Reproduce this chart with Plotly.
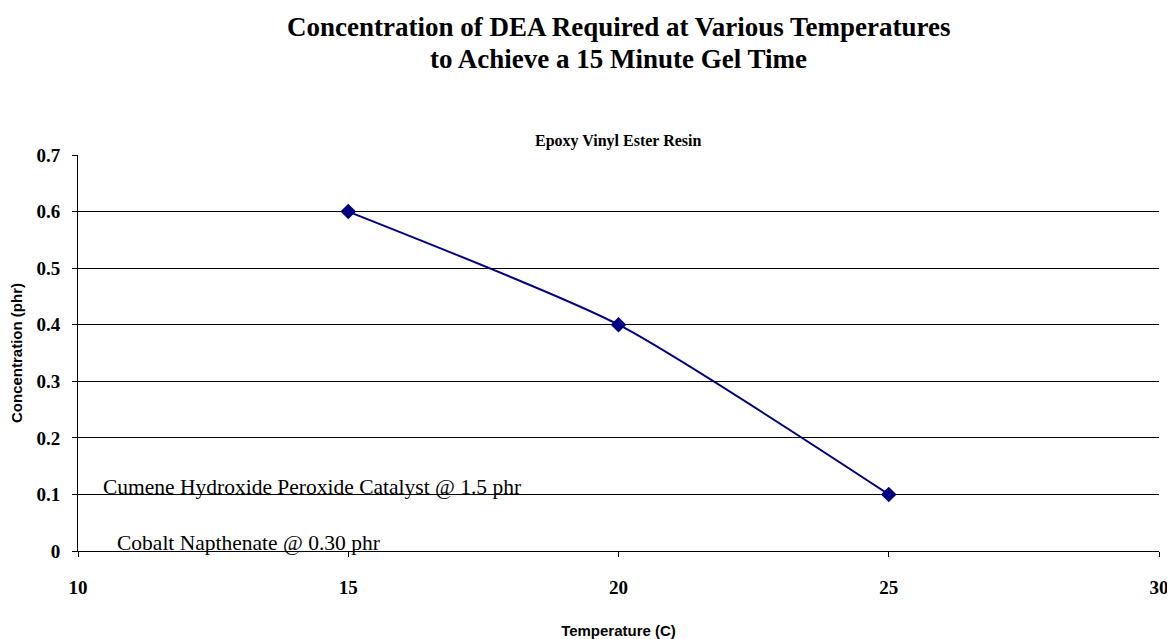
import plotly.graph_objects as go

temperature = [15, 20, 25]
concentration = [0.6, 0.4, 0.1]
x_ticks = [10, 15, 20, 25, 30]
y_ticks = [0, 0.1, 0.2, 0.3, 0.4, 0.5, 0.6, 0.7]
y_tick_labels = ["0", "0.1", "0.2", "0.3", "0.4", "0.5", "0.6", "0.7"]

serif = "Liberation Serif, Times New Roman, serif"
sans = "Liberation Sans, Arial, sans-serif"

fig = go.Figure()
fig.add_trace(go.Scatter(
    x=temperature, y=concentration, mode="lines+markers",
    line=dict(color="#000080", width=2, shape="spline", smoothing=0.6),
    marker=dict(symbol="diamond", size=12, color="#000080"),
    showlegend=False, hoverinfo="x+y",
))

# page body has an 8px margin, so the figure is sized/offset to compensate
fig.update_layout(
    width=1167, height=631,
    margin=dict(l=70, r=16, t=147, b=88, autoexpand=False),
    paper_bgcolor="white", plot_bgcolor="white",
    xaxis=dict(
        range=[10, 30], tickvals=x_ticks, ticks="outside", ticklen=5,
        tickcolor="black", showline=True, linecolor="black", linewidth=1,
        showgrid=False, zeroline=False, ticklabelstandoff=14,
        automargin=False,
        tickfont=dict(family=serif, size=19, color="black", weight="bold"),
        title=dict(text="<b>Temperature (C)</b>", standoff=28,
                   font=dict(family=sans, size=15, color="black")),
    ),
    yaxis=dict(
        range=[0, 0.7], tickvals=y_ticks, ticktext=y_tick_labels,
        ticks="outside", ticklen=5, tickcolor="black",
        showline=True, linecolor="black", linewidth=1,
        showgrid=True, gridcolor="black", gridwidth=1, zeroline=False,
        ticklabelstandoff=8, automargin=False,
        tickfont=dict(family=serif, size=19, color="black", weight="bold"),
        title=dict(text="<b>Concentration (phr)</b>", standoff=10,
                   font=dict(family=sans, size=15, color="black")),
    ),
    annotations=[
        dict(text="<b>Concentration of DEA Required at Various Temperatures</b>",
             xref="paper", yref="paper", x=0.5, y=1, yshift=128,
             xanchor="center", yanchor="middle", showarrow=False,
             font=dict(family=serif, size=27, color="black")),
        dict(text="<b>to Achieve a 15 Minute Gel Time</b>",
             xref="paper", yref="paper", x=0.5, y=1, yshift=96,
             xanchor="center", yanchor="middle", showarrow=False,
             font=dict(family=serif, size=27, color="black")),
        dict(text="<b>Epoxy Vinyl Ester Resin</b>",
             xref="paper", yref="paper", x=0.5, y=1, yshift=14,
             xanchor="center", yanchor="middle", showarrow=False,
             font=dict(family=serif, size=16, color="black")),
        dict(text="Cumene Hydroxide Peroxide Catalyst @ 1.5 phr",
             xref="x", yref="y", x=10.42, y=0.113,
             xanchor="left", yanchor="middle", showarrow=False,
             font=dict(family=serif, size=21.5, color="black")),
        dict(text="Cobalt Napthenate @ 0.30 phr",
             xref="x", yref="y", x=10.68, y=0.014,
             xanchor="left", yanchor="middle", showarrow=False,
             font=dict(family=serif, size=21.5, color="black")),
    ],
)

fig.write_html("out.html")
